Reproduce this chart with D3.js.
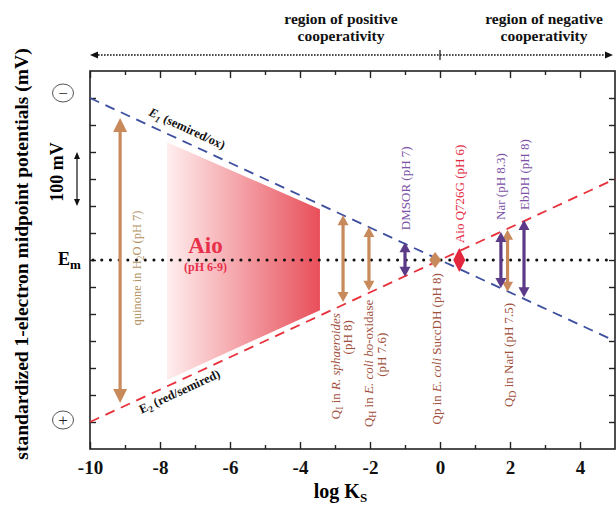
<!DOCTYPE html>
<html lang="en">
<head>
<meta charset="UTF-8">
<title>Em vs log Ks</title>
<script src="https://d3js.org/d3.v7.min.js"></script>
<style>
  body { margin: 0; background: #fff; }
  text { font-family: "Liberation Serif", "Times New Roman", serif; }
  .frame { fill: none; stroke: #222; stroke-width: 1.6px; }
  .tick line { stroke: #222; stroke-width: 1.4px; }
  .tick text { font-size: 19px; font-weight: bold; fill: #111; }
</style>
</head>
<body>
<div id="chart"></div>
<script>
// --- data ---
const xTicks = [-10, -8, -6, -4, -2, 0, 2, 4];
const xMinor = [-9, -7, -5, -3, -1, 1, 3];
const yTicks = [-300, -250, -200, -150, -100, -50, 0, 50, 100, 150, 200, 250, 300]; // mV rel. Em
const e1Line = [[-10, -300], [5, 150]];   // E1 (semired/ox)
const e2Line = [[-10, 300], [5, -150]];   // E2 (red/semired)
// Aio region (pH 6-9)
const aioX = [-7.8, -3.43];
const aioTop = [-218, -94];
const aioBottom = [222, 93];
// measured ranges (log Ks, upper and lower potential)
const systems = ["quinone", "Qi", "QH", "DMSOR", "Qp", "AioQ726G", "QD", "Nar", "EbDH"];
const sysLogKs = [-9.14, -2.77, -2.03, -1.0, -0.14, 0.55, 1.93, 1.74, 2.4];
const sysLow = [-263, -83, -61, -33, -15, -22, -56, -52, -74];
const sysHigh = [265, 78, 57, 31, 15, 22, 59, 52, 69];
const sysKind = ["quinone", "tan", "tan", "purple", "tanDiamond", "redDiamond", "tan", "purple", "purple"];

const W = 616, H = 508;
const x = d3.scaleLinear().domain([-10, 5]).range([90, 615]);
const y = d3.scaleLinear().domain([-350, 350]).range([71, 449]);

const col = {
  tan: "#c8895b", purple: "#5b3a87", red: "#e3283e",
  quinoneLabel: "#b39465", qLabel: "#a0503c", purpleLabel: "#7b52a6"
};

const svg = d3.select("#chart").append("svg").attr("width", W).attr("height", H);

// gradient for Aio
const grad = svg.append("defs").append("linearGradient")
  .attr("id", "aioGrad").attr("gradientUnits", "userSpaceOnUse")
  .attr("x1", x(aioX[0])).attr("x2", x(aioX[1])).attr("y1", 0).attr("y2", 0);
grad.append("stop").attr("offset", 0).attr("stop-color", "#ffeeee");
grad.append("stop").attr("offset", 1).attr("stop-color", "#e84f5a");

svg.append("path")
  .attr("d", d3.line()([
    [x(aioX[0]), y(aioTop[0])], [x(aioX[1]), y(aioTop[1])],
    [x(aioX[1]), y(aioBottom[1])], [x(aioX[0]), y(aioBottom[0])]
  ]) + "Z")
  .attr("fill", "url(#aioGrad)");

// axes (inward ticks)
svg.append("g").attr("transform", `translate(0,${y.range()[1]})`)
  .call(d3.axisBottom(x).tickValues(xTicks).tickSize(-7).tickSizeOuter(0).tickPadding(12)
    .tickFormat(d => String(d)))
  .call(g => g.select(".domain").remove());
svg.append("g").attr("transform", `translate(0,${y.range()[1]})`)
  .call(d3.axisBottom(x).tickValues(xMinor).tickSize(-4).tickFormat(""))
  .call(g => g.select(".domain").remove());
svg.append("g").attr("transform", `translate(0,${y.range()[0]})`)
  .call(d3.axisTop(x).tickValues(xTicks).tickSize(-7).tickFormat(""))
  .call(g => g.select(".domain").remove());
svg.append("g").attr("transform", `translate(0,${y.range()[0]})`)
  .call(d3.axisTop(x).tickValues(xMinor).tickSize(-4).tickFormat(""))
  .call(g => g.select(".domain").remove());
svg.append("g").attr("transform", `translate(${x.range()[0]},0)`)
  .call(d3.axisLeft(y).tickValues(yTicks).tickSize(-6).tickFormat(""))
  .call(g => g.select(".domain").remove());
svg.append("g").attr("transform", `translate(${x.range()[1]},0)`)
  .call(d3.axisRight(y).tickValues(yTicks).tickSize(-6).tickFormat(""))
  .call(g => g.select(".domain").remove());

svg.append("rect").attr("class", "frame")
  .attr("x", x.range()[0]).attr("y", y.range()[0])
  .attr("width", x.range()[1] - x.range()[0]).attr("height", y.range()[1] - y.range()[0]);

// Em dotted line
svg.append("line")
  .attr("x1", x(-10) + 3).attr("x2", x(5)).attr("y1", y(0)).attr("y2", y(0))
  .attr("stroke", "#111").attr("stroke-width", 3).attr("stroke-linecap", "round")
  .attr("stroke-dasharray", "0.1,8.6");

// E1 / E2 dashed lines
const line = d3.line().x(d => x(d[0])).y(d => y(d[1]));
svg.append("path").attr("d", line(e1Line)).attr("fill", "none")
  .attr("stroke", "#3d4f9e").attr("stroke-width", 1.8).attr("stroke-dasharray", "10,7");
svg.append("path").attr("d", line(e2Line)).attr("fill", "none")
  .attr("stroke", "#e8303a").attr("stroke-width", 1.8).attr("stroke-dasharray", "10,7");

const ang = Math.atan2(y(e1Line[1][1]) - y(e1Line[0][1]), x(e1Line[1][0]) - x(e1Line[0][0])) * 180 / Math.PI;
const e1At = v => e1Line[0][1] + (v - e1Line[0][0]) * (e1Line[1][1] - e1Line[0][1]) / (e1Line[1][0] - e1Line[0][0]);
const e2At = v => e2Line[0][1] + (v - e2Line[0][0]) * (e2Line[1][1] - e2Line[0][1]) / (e2Line[1][0] - e2Line[0][0]);

const t1 = svg.append("text")
  .attr("transform", `translate(${x(-8.45)},${y(e1At(-8.45))}) rotate(${ang})`)
  .attr("y", -9).attr("font-size", 12.5).attr("font-weight", "bold").attr("fill", "#111");
t1.append("tspan").attr("font-style", "italic").text("E");
t1.append("tspan").attr("font-size", 9).attr("dy", 3).attr("font-style", "italic").text("1");
t1.append("tspan").attr("dy", -3).text(" (semired/ox)");

const t2 = svg.append("text")
  .attr("transform", `translate(${x(-8.7)},${y(e2At(-8.7))}) rotate(${-ang})`)
  .attr("y", 14).attr("font-size", 12.5).attr("font-weight", "bold").attr("fill", "#111");
t2.append("tspan").text("E");
t2.append("tspan").attr("font-size", 9).attr("dy", 3).text("2");
t2.append("tspan").attr("dy", -3).text(" (red/semired)");

// Aio label
svg.append("text").attr("x", x(-6.7)).attr("y", 253).attr("text-anchor", "middle")
  .attr("font-size", 23).attr("font-weight", "bold").attr("fill", "#e8304a").text("Aio");
svg.append("text").attr("x", x(-6.7)).attr("y", 271).attr("text-anchor", "middle")
  .attr("font-size", 12).attr("font-weight", "bold").attr("fill", "#e8304a").text("(pH 6-9)");

// double arrows
function dArrow(i) {
  const kind = sysKind[i];
  const px = x(sysLogKs[i]), y1 = y(sysLow[i]), y2 = y(sysHigh[i]);
  let color, head, hw;
  if (kind === "quinone") { color = col.tan; head = 14; hw = 14; }
  else if (kind === "tan") { color = col.tan; head = 10; hw = 11; }
  else if (kind === "purple") { color = col.purple; head = 10; hw = 11; }
  else if (kind === "tanDiamond") { color = col.tan; head = (y2 - y1) / 2; hw = 12; }
  else { color = col.red; head = (y2 - y1) / 2; hw = 12; }
  const g = svg.append("g").attr("fill", color);
  if (y2 - y1 > 2 * head + 0.5) {
    g.append("line").attr("x1", px).attr("x2", px).attr("y1", y1 + head - 1).attr("y2", y2 - head + 1)
      .attr("stroke", color).attr("stroke-width", 3.2);
  }
  g.append("path").attr("d", `M${px},${y1}L${px - hw / 2},${y1 + head}L${px + hw / 2},${y1 + head}Z`);
  g.append("path").attr("d", `M${px},${y2}L${px - hw / 2},${y2 - head}L${px + hw / 2},${y2 - head}Z`);
}
systems.forEach((s, i) => dArrow(i));

// rotated labels
function vText(px, py, anchor, color, size, parts) {
  const t = svg.append("text")
    .attr("transform", `translate(${px},${py}) rotate(-90)`)
    .attr("text-anchor", anchor).attr("font-size", size).attr("fill", color);
  parts.forEach(p => {
    const ts = t.append("tspan").text(p.t);
    if (p.it) ts.attr("font-style", "italic");
    if (p.sub) { ts.attr("font-size", size * 0.75).attr("dy", 3); }
    if (p.unsub) ts.attr("dy", -3);
  });
  return t;
}
const idx = s => systems.indexOf(s);
const ax = s => x(sysLogKs[idx(s)]);
const aTop = s => y(sysLow[idx(s)]);
const aBot = s => y(sysHigh[idx(s)]);

vText(ax("quinone") + 21, 268, "middle", col.quinoneLabel, 12.5,
  [{t: "quinone in H"}, {t: "2", sub: true}, {t: "O (pH 7)", unsub: true}]);

vText(ax("Qi") - 3, aBot("Qi") + 11, "end", col.qLabel, 13,
  [{t: "Q"}, {t: "I", sub: true}, {t: " in ", unsub: true}, {t: "R. sphaeroides", it: true}]);
vText(ax("Qi") + 9, aBot("Qi") + 18, "end", col.qLabel, 13, [{t: "(pH 8)"}]);

vText(ax("QH") + 4, aBot("QH") + 9, "end", col.qLabel, 13,
  [{t: "Q"}, {t: "H", sub: true}, {t: " in ", unsub: true}, {t: "E. coli bo", it: true}, {t: "-oxidase"}]);
vText(ax("QH") + 17, aBot("QH") + 42, "end", col.qLabel, 13, [{t: "(pH 7.6)"}]);

vText(ax("Qp") + 6, aBot("Qp") + 5, "end", col.qLabel, 13,
  [{t: "Qp in "}, {t: "E. coli", it: true}, {t: " SuccDH (pH 8)"}]);

vText(ax("QD") + 5, aBot("QD") + 11, "end", col.qLabel, 13,
  [{t: "Q"}, {t: "D", sub: true}, {t: " in NarI (pH 7.5)", unsub: true}]);

vText(ax("DMSOR") + 5, aTop("DMSOR") - 12, "start", col.purpleLabel, 13, [{t: "DMSOR (pH 7)"}]);
vText(ax("AioQ726G") + 5, aTop("AioQ726G") - 5, "start", col.red, 13, [{t: "Aio Q726G (pH 6)"}]);
vText(ax("Nar") + 4, aTop("Nar") - 12, "start", col.purpleLabel, 13, [{t: "Nar (pH 8.3)"}]);
vText(ax("EbDH") + 5, aTop("EbDH") - 10, "start", col.purpleLabel, 13, [{t: "EbDH (pH 8)"}]);

// axis titles
svg.append("text").attr("x", (x.range()[0] + x.range()[1]) / 2 - 12).attr("y", 498)
  .attr("text-anchor", "middle").attr("font-size", 20).attr("font-weight", "bold")
  .call(t => {
    t.append("tspan").text("log K");
    t.append("tspan").attr("font-size", 13).attr("dy", 4).text("S");
  });

svg.append("text").attr("transform", "translate(28,254) rotate(-90)")
  .attr("text-anchor", "middle").attr("font-size", 19.5).attr("font-weight", "bold")
  .text("standardized 1-electron midpoint potentials (mV)");

// Em label
svg.append("text").attr("x", 58).attr("y", 265).attr("font-size", 18).attr("font-weight", "bold")
  .call(t => {
    t.append("tspan").text("E");
    t.append("tspan").attr("font-size", 13).attr("dy", 4).text("m");
  });

// 100 mV scale
svg.append("text").attr("transform", "translate(63,172) rotate(-90)")
  .attr("text-anchor", "middle").attr("font-size", 18).attr("font-weight", "bold").text("100 mV");
const sb = svg.append("g").attr("fill", "#111");
sb.append("line").attr("x1", 77).attr("x2", 77).attr("y1", y(-200) + 4).attr("y2", y(-100) - 4)
  .attr("stroke", "#111").attr("stroke-width", 1.2);
sb.append("path").attr("d", `M77,${y(-200)}L74,${y(-200) + 7}L80,${y(-200) + 7}Z`);
sb.append("path").attr("d", `M77,${y(-100)}L74,${y(-100) - 7}L80,${y(-100) - 7}Z`);

// − / + circles
[["−", 93], ["+", 420]].forEach(([s, cy]) => {
  svg.append("ellipse").attr("cx", 63).attr("cy", cy).attr("rx", 10.5).attr("ry", 9)
    .attr("fill", "none").attr("stroke", "#555").attr("stroke-width", 1);
  svg.append("text").attr("x", 63).attr("y", cy + 5.5).attr("text-anchor", "middle")
    .attr("font-size", 17).attr("fill", "#222").text(s);
});

// cooperativity arrow on top
const ta = svg.append("g").attr("fill", "#111");
ta.append("line").attr("x1", x(-10) + 5).attr("x2", x(5) - 7).attr("y1", 55).attr("y2", 55)
  .attr("stroke", "#111").attr("stroke-width", 1.3).attr("stroke-dasharray", "1.6,1.4");
ta.append("path").attr("d", `M${x(-10)},55L${x(-10) + 8},51.5L${x(-10) + 8},58.5Z`);
ta.append("path").attr("d", `M${x(5) - 2},55L${x(5) - 10},51.5L${x(5) - 10},58.5Z`);
ta.append("line").attr("x1", x(0)).attr("x2", x(0)).attr("y1", 50).attr("y2", 60)
  .attr("stroke", "#111").attr("stroke-width", 1.2);

[[341, "region of positive"], [544, "region of negative"]].forEach(([cx, s]) => {
  const t = svg.append("text").attr("text-anchor", "middle").attr("font-size", 15.5)
    .attr("font-weight", "bold").attr("fill", "#111");
  t.append("tspan").attr("x", cx).attr("y", 24).text(s);
  t.append("tspan").attr("x", cx).attr("y", 41).text("cooperativity");
});
</script>
</body>
</html>
